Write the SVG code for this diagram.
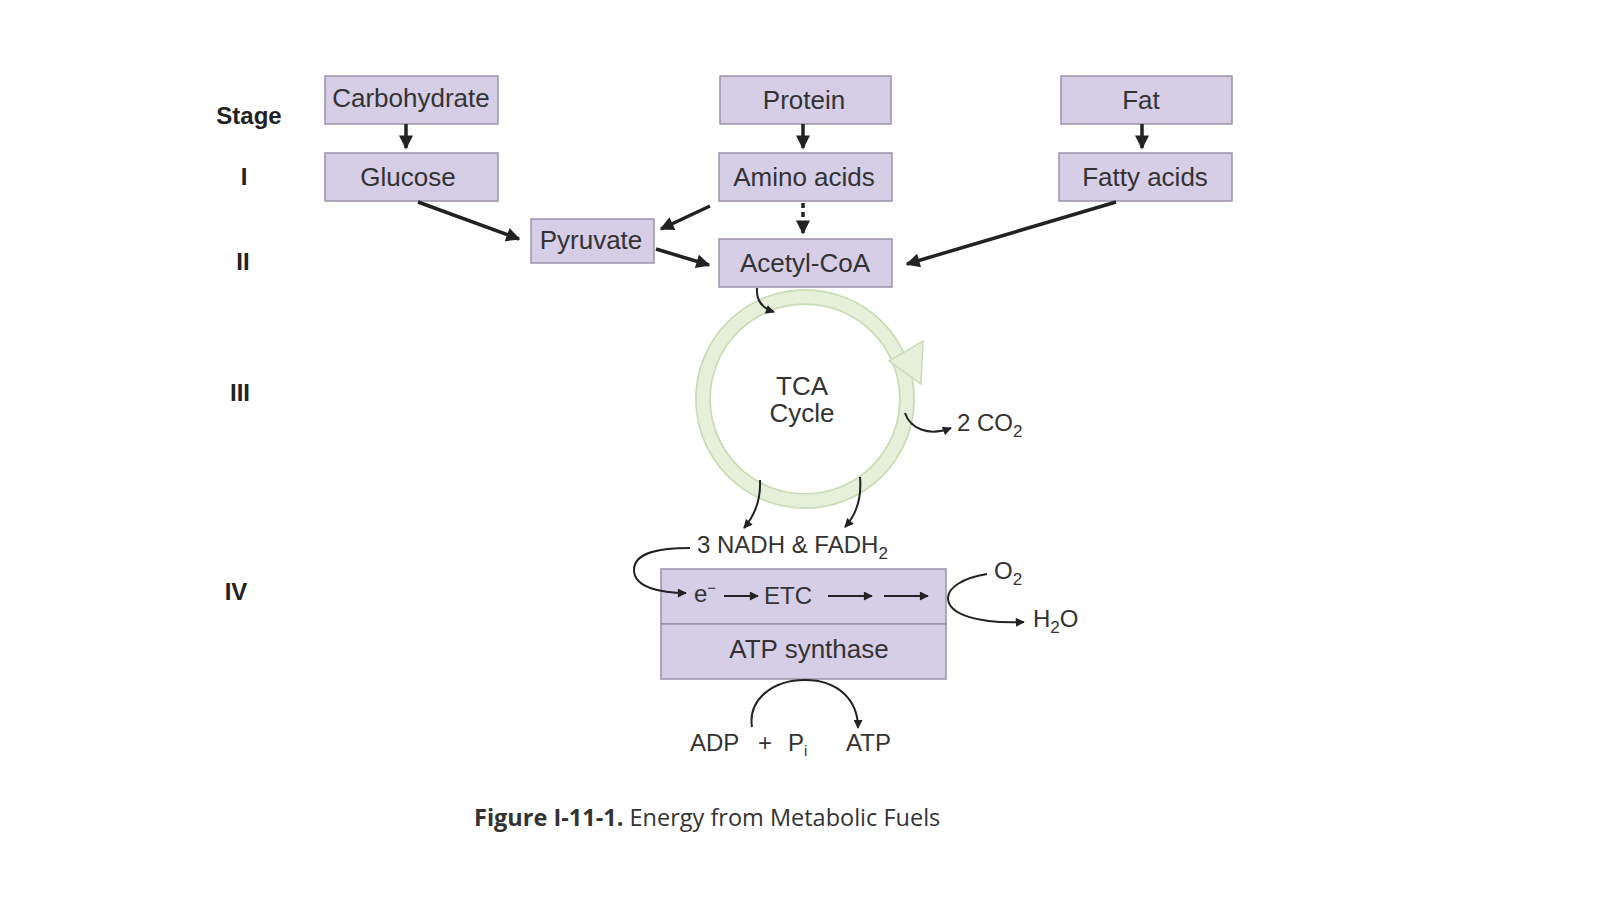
<svg xmlns="http://www.w3.org/2000/svg" width="1600" height="899" viewBox="0 0 1600 899">
<defs>
<style>
.box{fill:#d6cde6;stroke:#9c93aa;stroke-width:1.5}
.t{font-family:"Liberation Sans",Arial,sans-serif;font-size:26px;fill:#333;text-anchor:middle}
.tl{font-family:"Liberation Sans",Arial,sans-serif;font-size:24px;fill:#333}
.stg{font-family:"Liberation Sans",Arial,sans-serif;font-size:24px;font-weight:bold;fill:#222;text-anchor:middle}
.a{fill:none;stroke:#222;stroke-width:3.5}
.c{fill:none;stroke:#222;stroke-width:2}
.cap{font-family:"Open Sans",sans-serif;font-size:23.5px;fill:#333}
</style>
<marker id="ah" viewBox="0 0 10 10" refX="9" refY="5" markerWidth="16" markerHeight="14" markerUnits="userSpaceOnUse" orient="auto">
<path d="M0,0 L10,5 L0,10 Z" fill="#222"/>
</marker>
<marker id="sh" viewBox="0 0 10 10" refX="9" refY="5" markerWidth="10" markerHeight="9" markerUnits="userSpaceOnUse" orient="auto">
<path d="M0,0 L10,5 L0,10 Z" fill="#222"/>
</marker>
</defs>
<rect width="1600" height="899" fill="#ffffff"/>

<g id="stages">
<text class="stg" x="249" y="124">Stage</text>
<text class="stg" x="244" y="185">I</text>
<text class="stg" x="243" y="270">II</text>
<text class="stg" x="240" y="401">III</text>
<text class="stg" x="236" y="600">IV</text>
</g>

<g id="carbohydrate"><rect class="box" x="325" y="76" width="173" height="48"/><text class="t" x="411" y="107">Carbohydrate</text></g>
<g id="protein"><rect class="box" x="720" y="76" width="171" height="48"/><text class="t" x="804" y="109">Protein</text></g>
<g id="fat"><rect class="box" x="1061" y="76" width="171" height="48"/><text class="t" x="1141" y="109">Fat</text></g>
<g id="glucose"><rect class="box" x="325" y="153" width="173" height="48"/><text class="t" x="408" y="186">Glucose</text></g>
<g id="amino"><rect class="box" x="719" y="153" width="173" height="48"/><text class="t" x="804" y="186">Amino acids</text></g>
<g id="fatty"><rect class="box" x="1059" y="153" width="173" height="48"/><text class="t" x="1145" y="186">Fatty acids</text></g>
<g id="pyruvate"><rect class="box" x="531" y="219" width="123" height="44"/><text class="t" x="591" y="249">Pyruvate</text></g>
<g id="acetyl"><rect class="box" x="719" y="239" width="173" height="48"/><text class="t" x="805" y="272">Acetyl-CoA</text></g>

<g id="tca">
<circle cx="805" cy="399" r="102" fill="none" stroke="#c8ddb5" stroke-width="16"/>
<circle cx="805" cy="399" r="102" fill="none" stroke="#e5efd9" stroke-width="12.5"/>
<polygon points="889,361 923,341 921,384" fill="#e5efd9" stroke="#c8ddb5" stroke-width="1.5"/>
<text class="t" x="802" y="395" font-size="23">TCA</text>
<text class="t" x="802" y="422" font-size="23">Cycle</text>
</g>

<g id="etc">
<rect class="box" x="661" y="569" width="285" height="55"/>
<rect class="box" x="661" y="624" width="285" height="55"/>
<text class="tl" x="694" y="602">e<tspan font-size="15" dy="-9">−</tspan></text>
<text class="tl" x="764" y="604">ETC</text>
<text class="t" x="809" y="658">ATP synthase</text>
</g>

<g id="labels">
<text class="tl" x="957" y="431">2 CO<tspan font-size="17" dy="6">2</tspan></text>
<text class="tl" x="697" y="553">3 NADH &amp; FADH<tspan font-size="17" dy="6">2</tspan></text>
<text class="tl" x="994" y="579">O<tspan font-size="17" dy="6">2</tspan></text>
<text class="tl" x="1033" y="627">H<tspan font-size="17" dy="6">2</tspan><tspan dy="-6">O</tspan></text>
<text class="tl" x="690" y="751">ADP</text>
<text class="tl" x="758" y="751">+</text>
<text class="tl" x="788" y="751">P<tspan font-size="15" dy="5">i</tspan></text>
<text class="tl" x="846" y="751">ATP</text>
</g>

<g id="connectors">
<line class="a" x1="406" y1="124" x2="406" y2="148" marker-end="url(#ah)"/>
<line class="a" x1="803" y1="124" x2="803" y2="148" marker-end="url(#ah)"/>
<line class="a" x1="1142" y1="124" x2="1142" y2="148" marker-end="url(#ah)"/>
<line class="a" x1="418" y1="202" x2="519" y2="239" marker-end="url(#ah)"/>
<line class="a" x1="710" y1="206" x2="661" y2="229" marker-end="url(#ah)"/>
<line class="a" x1="803" y1="203" x2="803" y2="233" stroke-dasharray="5,4" marker-end="url(#ah)"/>
<line class="a" x1="656" y1="249" x2="709" y2="265" marker-end="url(#ah)"/>
<line class="a" x1="1116" y1="202" x2="907" y2="264" marker-end="url(#ah)"/>
<path class="c" d="M757,288 C756,300 762,308 774,312" marker-end="url(#sh)"/>
<path class="c" d="M905,413 C910,428 928,437 951,428" marker-end="url(#sh)"/>
<path class="c" d="M760,480 C761,500 755,515 744,528" marker-end="url(#sh)"/>
<path class="c" d="M860,477 C862,500 856,515 845,527" marker-end="url(#sh)"/>
<path class="c" d="M690,548 C660,548 634,552 634,570 C634,588 662,593 686,593" marker-end="url(#sh)"/>
<line class="c" x1="724" y1="596" x2="758" y2="596" marker-end="url(#sh)"/>
<line class="c" x1="828" y1="596" x2="872" y2="596" marker-end="url(#sh)"/>
<line class="c" x1="884" y1="596" x2="928" y2="596" marker-end="url(#sh)"/>
<path class="c" d="M987,574 C962,578 948,588 948,598 C948,615 980,624 1024,622" marker-end="url(#sh)"/>
<path class="c" d="M752,727 C748,700 772,680 805,680 C838,680 858,700 858,728" marker-end="url(#sh)"/>
</g>

<g id="caption">
<text class="cap" x="474" y="826"><tspan font-weight="bold">Figure I-11-1.</tspan> Energy from Metabolic Fuels</text>
</g>
</svg>
